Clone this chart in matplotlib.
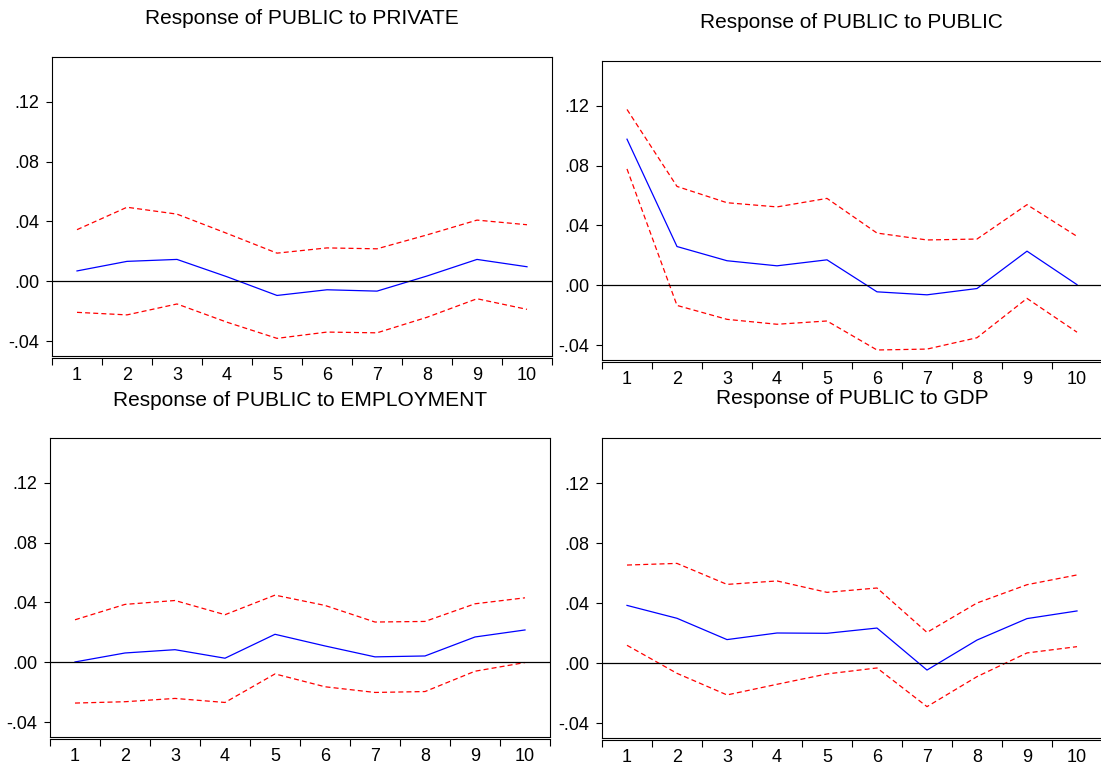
import matplotlib.pyplot as plt
from matplotlib.ticker import FixedLocator, FuncFormatter

plt.rcParams['font.family'] = ['Liberation Sans', 'DejaVu Sans']

periods = list(range(1, 11))

titles = [
    "Response of PUBLIC to PRIVATE",
    "Response of PUBLIC to PUBLIC",
    "Response of PUBLIC to EMPLOYMENT",
    "Response of PUBLIC to GDP",
]

# impulse responses with +/- 2 s.e. bands
private_resp = [0.0069, 0.0133, 0.0146, 0.0030, -0.0095, -0.0057, -0.0066, 0.0035, 0.0146, 0.0097]
private_hi = [0.0345, 0.0495, 0.0449, 0.0320, 0.0188, 0.0223, 0.0217, 0.0310, 0.0409, 0.0378]
private_lo = [-0.0208, -0.0225, -0.0152, -0.0274, -0.0382, -0.0340, -0.0345, -0.0241, -0.0117, -0.0188]

public_resp = [0.0977, 0.0259, 0.0164, 0.0130, 0.0170, -0.0044, -0.0064, -0.0022, 0.0228, 0.0004]
public_hi = [0.1176, 0.0661, 0.0552, 0.0524, 0.0581, 0.0349, 0.0303, 0.0309, 0.0539, 0.0327]
public_lo = [0.0778, -0.0135, -0.0228, -0.0261, -0.0239, -0.0433, -0.0427, -0.0351, -0.0088, -0.0314]

employment_resp = [0.0002, 0.0062, 0.0084, 0.0027, 0.0187, 0.0109, 0.0036, 0.0042, 0.0169, 0.0216]
employment_hi = [0.0284, 0.0387, 0.0413, 0.0318, 0.0449, 0.0380, 0.0269, 0.0273, 0.0391, 0.0431]
employment_lo = [-0.0273, -0.0264, -0.0242, -0.0269, -0.0078, -0.0164, -0.0202, -0.0196, -0.0060, -0.0002]

gdp_resp = [0.0384, 0.0298, 0.0156, 0.0200, 0.0198, 0.0233, -0.0047, 0.0153, 0.0296, 0.0347]
gdp_hi = [0.0653, 0.0664, 0.0524, 0.0547, 0.0471, 0.0500, 0.0204, 0.0400, 0.0522, 0.0587]
gdp_lo = [0.0118, -0.0069, -0.0213, -0.0142, -0.0073, -0.0033, -0.0291, -0.0091, 0.0067, 0.0109]

y_ticks = [-0.04, 0.00, 0.04, 0.08, 0.12]

panels = [
    (private_resp, private_hi, private_lo),
    (public_resp, public_hi, public_lo),
    (employment_resp, employment_hi, employment_lo),
    (gdp_resp, gdp_hi, gdp_lo),
]

W, H = 1101, 769
# left, top, bottom in pixels for each panel
boxes = [(52, 57, 356), (602, 61, 360), (50, 438, 737), (602, 438, 738)]
title_pos = [(302, 18), (851, 22), (300, 400), (852, 399)]


def ylab(v, pos):
    s = "%.2f" % v
    if s.startswith("-0"):
        return "-" + s[2:]
    if s.startswith("0"):
        return s[1:]
    return s


fig = plt.figure(figsize=(W / 100, H / 100), dpi=100)

for (resp, hi, lo), (left, top, bottom), title, (tx, ty) in zip(panels, boxes, titles, title_pos):
    ax = fig.add_axes([left / W, 1 - bottom / H, 500 / W, (bottom - top) / H])
    ax.plot(periods, hi, color='red', lw=0.9, ls=(0, (4, 2.5)))
    ax.plot(periods, lo, color='red', lw=0.9, ls=(0, (4, 2.5)))
    ax.plot(periods, resp, color='blue', lw=0.9)
    ax.axhline(0, color='black', lw=0.9)
    ax.set_xlim(0.5, 10.5)
    ax.set_ylim(-0.05, 0.15)
    ax.set_yticks(y_ticks)
    ax.yaxis.set_major_formatter(FuncFormatter(ylab))
    ax.tick_params(axis='y', direction='out', length=4.3, width=0.8, pad=5, labelsize=13)
    ax.set_xticks([])
    for sp in ax.spines.values():
        sp.set_linewidth(0.8)

    # detached category axis just below the frame
    sec = ax.secondary_xaxis(-2.3 / (bottom - top))
    sec.set_xticks(periods)
    sec.xaxis.set_minor_locator(FixedLocator([p + 0.5 for p in range(0, 11)]))
    sec.tick_params(axis='x', which='major', length=0, pad=6, labelsize=13)
    sec.tick_params(axis='x', which='minor', length=5, width=0.8, direction='out')
    sec.spines['bottom'].set_linewidth(0.8)

    fig.text(tx / W, 1 - ty / H, title, ha='center', va='center', fontsize=15)

fig.savefig('out.png', dpi=100)
